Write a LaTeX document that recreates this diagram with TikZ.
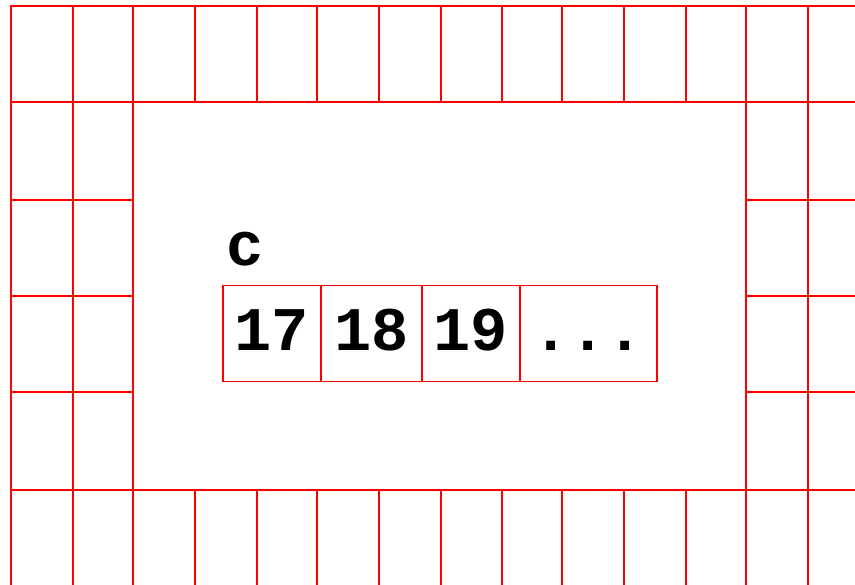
\documentclass[tikz,border=0pt]{standalone}
\usepackage{fontspec}
\newfontfamily\monob{Liberation Mono}[BoldFont={Liberation Mono Bold}]
\begin{document}
\begin{tikzpicture}[x=1pt,y=-1pt,
  gridline/.style={draw=red,line width=2pt},
  cell/.style={draw=red,line width=1.5pt,minimum height=96pt,inner sep=0pt,anchor=north west,text height=42pt,text depth=8pt},
  txt/.style={font=\monob\bfseries\fontsize{62}{62}\selectfont}]
\useasboundingbox (0,0) rectangle (855,585);
% top row
\draw[gridline] (11,102) |- (855,6);
\draw[gridline] (11,102) -- (855,102);
\foreach \x in {73,133,195,257,317,379,441,502,562,624,686,746,808}
  \draw[gridline] (\x,6) -- (\x,102);
% bottom row
\draw[gridline] (11,490) -- (855,490);
\foreach \x in {11,73,133,195,257,317,379,441,502,562,624,686,746,808}
  \draw[gridline] (\x,490) -- (\x,585);
% left columns
\foreach \x in {11,73,133}
  \draw[gridline] (\x,102) -- (\x,490);
\foreach \y in {200,296,392}
  \draw[gridline] (11,\y) -- (133,\y);
% right columns
\foreach \x in {746,808}
  \draw[gridline] (\x,102) -- (\x,490);
\foreach \y in {200,296,392}
  \draw[gridline] (746,\y) -- (855,\y);
% array
\node[cell,minimum width=98pt,txt] (a) at (222,285) {17};
\node[cell,minimum width=101pt,txt] (b) at (320,285) {18};
\node[cell,minimum width=98pt,txt] (d) at (421,285) {19};
\node[cell,minimum width=137pt,txt] (e) at (519,285) {...};
\node[txt,anchor=base west,inner sep=0pt] (c) at (226,266) {c};
\end{tikzpicture}
\end{document}
